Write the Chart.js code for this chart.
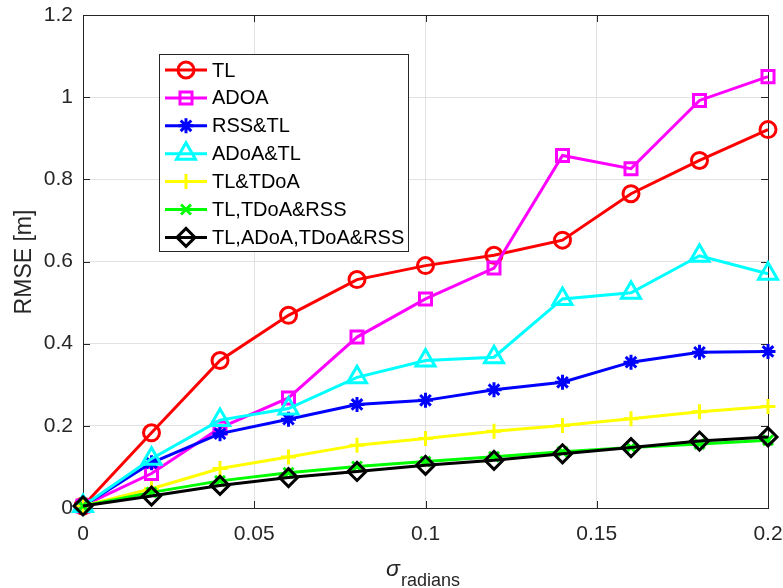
<!DOCTYPE html>
<html>
<head>
<meta charset="utf-8">
<style>
  html, body { margin: 0; padding: 0; background: #fff; }
  #wrap { width: 783px; height: 588px; }
</style>
</head>
<body>
<script src="https://cdn.jsdelivr.net/npm/chart.js@4.4.0/dist/chart.umd.min.js"></script>
<div id="wrap"><canvas id="rmseChart"></canvas></div>
<script>
  // noise level on the angle measurements
  let sigma = [0, 0.02, 0.04, 0.06, 0.08, 0.1, 0.12, 0.14, 0.16, 0.18, 0.2];

  // RMSE [m] per method
  let rmseTL        = [0.005, 0.183, 0.359, 0.469, 0.556, 0.590, 0.615, 0.652, 0.765, 0.846, 0.921];
  let rmseADOA      = [0.005, 0.084, 0.195, 0.268, 0.416, 0.509, 0.584, 0.858, 0.826, 0.992, 1.050];
  let rmseRSSTL     = [0.005, 0.110, 0.181, 0.216, 0.252, 0.262, 0.288, 0.306, 0.355, 0.379, 0.381];
  let rmseADoATL    = [0.005, 0.120, 0.214, 0.242, 0.318, 0.359, 0.367, 0.509, 0.524, 0.614, 0.570];
  let rmseTLTDoA    = [0.005, 0.047, 0.096, 0.124, 0.153, 0.169, 0.187, 0.201, 0.217, 0.234, 0.247];
  let rmseTLTDoARSS = [0.005, 0.038, 0.066, 0.086, 0.101, 0.113, 0.125, 0.137, 0.147, 0.156, 0.165];
  let rmseAll       = [0.005, 0.029, 0.055, 0.074, 0.089, 0.104, 0.116, 0.132, 0.147, 0.163, 0.173];

  let seriesNames = ["TL", "ADOA", "RSS&TL", "ADoA&TL", "TL&TDoA", "TL,TDoA&RSS", "TL,ADoA,TDoA&RSS"];
  let seriesValues = [rmseTL, rmseADOA, rmseRSSTL, rmseADoATL, rmseTLTDoA, rmseTLTDoARSS, rmseAll];
  let seriesColors = ["#ff0000", "#ff00ff", "#0000ff", "#00ffff", "#ffff00", "#00ff00", "#000000"];
  let seriesMarkers = ["circle", "rect", "star", "triangle", "cross", "crossRot", "rectRot"];
  let markerSizes = [8, 8.5, 7.5, 11, 7.5, 7, 9];

  let yTicks = [0, 0.2, 0.4, 0.6, 0.8, 1, 1.2];
  let xTicks = [0, 0.05, 0.1, 0.15, 0.2];

  let fontFamily = "'Liberation Sans', Arial, Helvetica, sans-serif";
  let axisColor = "#262626";

  // box round the axes with inward tick marks
  const axesFrame = {
    id: "axesFrame",
    beforeDatasetsDraw(chart) {
      const { ctx, chartArea: a, scales } = chart;
      ctx.save();
      ctx.strokeStyle = axisColor;
      ctx.lineWidth = 1;
      ctx.strokeRect(Math.round(a.left) + 0.5, Math.round(a.top) + 0.5,
        Math.round(a.right - a.left), Math.round(a.bottom - a.top));
      ctx.beginPath();
      xTicks.forEach(v => {
        const px = Math.round(scales.x.getPixelForValue(v)) + 0.5;
        ctx.moveTo(px, a.bottom); ctx.lineTo(px, a.bottom - 7);
        ctx.moveTo(px, a.top); ctx.lineTo(px, a.top + 7);
      });
      yTicks.forEach(v => {
        const py = Math.round(scales.y.getPixelForValue(v)) + 0.5;
        ctx.moveTo(a.left, py); ctx.lineTo(a.left + 7, py);
        ctx.moveTo(a.right, py); ctx.lineTo(a.right - 7, py);
      });
      ctx.stroke();
      ctx.restore();
    }
  };

  // axis titles: RMSE [m] and sigma with subscript
  const axisTitles = {
    id: "axisTitles",
    afterDraw(chart) {
      const { ctx } = chart;
      ctx.save();
      ctx.fillStyle = axisColor;
      ctx.textAlign = "center";
      ctx.textBaseline = "middle";
      ctx.font = "23px " + fontFamily;
      ctx.translate(25, 262);
      ctx.rotate(-Math.PI / 2);
      ctx.fillText("RMSE [m]", 0, 0);
      ctx.restore();

      ctx.save();
      ctx.fillStyle = axisColor;
      ctx.textBaseline = "alphabetic";
      ctx.textAlign = "left";
      ctx.font = "italic 23px " + fontFamily;
      ctx.fillText("σ", 386, 576);
      ctx.font = "18px " + fontFamily;
      ctx.fillText("radians", 401, 586);
      ctx.restore();
    }
  };

  // boxed legend, line sample with marker
  const boxLegend = {
    id: "boxLegend",
    afterDraw(chart) {
      const { ctx } = chart;
      const left = 159, top = 54, width = 249, height = 197;
      ctx.save();
      ctx.fillStyle = "#ffffff";
      ctx.fillRect(left, top, width, height);
      ctx.strokeStyle = axisColor;
      ctx.lineWidth = 1;
      ctx.strokeRect(left + 0.5, top + 0.5, width, height);
      ctx.font = "20px " + fontFamily;
      ctx.textBaseline = "middle";
      seriesNames.forEach((name, i) => {
        const y = 70 + i * 27.9;
        ctx.strokeStyle = seriesColors[i];
        ctx.lineWidth = 3;
        ctx.beginPath();
        ctx.moveTo(165, y);
        ctx.lineTo(207, y);
        ctx.stroke();
        ctx.fillStyle = "rgba(0,0,0,0)";
        ctx.lineWidth = 3;
        Chart.helpers.drawPoint(ctx, {
          pointStyle: seriesMarkers[i],
          radius: markerSizes[i],
          rotation: 0,
          borderWidth: 3
        }, 186, y);
        ctx.fillStyle = "#000000";
        ctx.fillText(name, 212, y + 1);
      });
      ctx.restore();
    }
  };

  let datasets = seriesNames.map((name, i) => ({
    label: name,
    data: sigma.map((s, k) => ({ x: s, y: seriesValues[i][k] })),
    borderColor: seriesColors[i],
    backgroundColor: seriesColors[i],
    borderWidth: 3,
    pointStyle: seriesMarkers[i],
    pointRadius: markerSizes[i],
    pointHoverRadius: markerSizes[i],
    pointBorderWidth: 3,
    pointBorderColor: seriesColors[i],
    pointBackgroundColor: "rgba(0,0,0,0)",
    tension: 0,
    clip: false,
    order: seriesNames.length - i
  }));

  new Chart(document.getElementById("rmseChart"), {
    type: "line",
    data: { datasets: datasets },
    options: {
      responsive: true,
      maintainAspectRatio: false,
      animation: false,
      layout: { padding: { top: 15, right: 15, left: 0, bottom: 0 } },
      plugins: {
        legend: { display: false },
        tooltip: { enabled: false }
      },
      scales: {
        x: {
          type: "linear",
          min: 0,
          max: 0.2,
          afterFit(scale) {
            scale.height = 80;
            scale.paddingLeft = 0;
            scale.paddingRight = 0;
          },
          afterBuildTicks(scale) { scale.ticks = xTicks.map(v => ({ value: v })); },
          grid: { color: "#e2e2e2", drawTicks: false },
          border: { display: false },
          ticks: {
            padding: 14,
            color: axisColor,
            font: { family: fontFamily, size: 21 },
            callback: v => String(Math.round(v * 100) / 100)
          }
        },
        y: {
          min: 0,
          max: 1.2,
          afterFit(scale) {
            scale.width = 83;
            scale.paddingTop = 0;
            scale.paddingBottom = 0;
          },
          afterBuildTicks(scale) { scale.ticks = yTicks.map(v => ({ value: v })); },
          grid: { color: "#e2e2e2", drawTicks: false },
          border: { display: false },
          ticks: {
            padding: 10,
            color: axisColor,
            font: { family: fontFamily, size: 21 },
            callback: v => String(Math.round(v * 10) / 10)
          }
        }
      }
    },
    plugins: [axesFrame, axisTitles, boxLegend]
  });
</script>
</body>
</html>
